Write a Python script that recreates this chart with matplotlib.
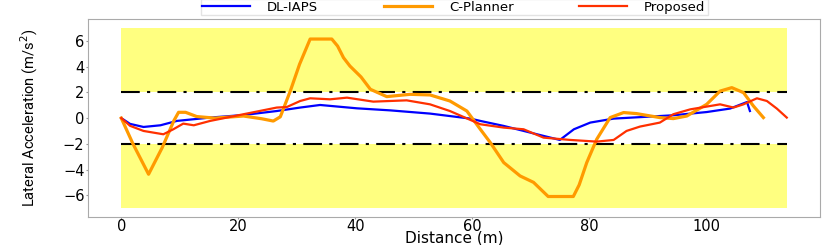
import matplotlib
matplotlib.use("Agg")
import matplotlib.pyplot as plt
import numpy as np

# C-Planner
cp_x = [0, 2.0, 4.67, 7.0, 9.0, 9.8, 11.0, 12.9, 16.0, 20.9, 24.0, 26.0, 27.2, 28.9, 30.5, 32.3, 36.0, 37.0,
        38.0, 39.1, 41.0, 42.6, 45.4, 49.4, 52.8, 56.2, 59.1, 61.4, 63.1, 65.4, 68.2, 70.5, 73.0, 77.3, 78.3,
        79.6, 81.3, 83.6, 85.9, 88.1, 92.1, 94.4, 96.7, 100.1, 102.4, 104.4, 106.4, 108.1, 109.8]
cp_y = [0, -2.0, -4.37, -2.3, -0.2, 0.45, 0.45, 0.12, 0.0, 0.16, -0.05, -0.23, 0.1, 2.1, 4.2, 6.15, 6.15, 5.6,
        4.7, 4.05, 3.2, 2.24, 1.67, 1.85, 1.8, 1.33, 0.55, -0.87, -1.9, -3.46, -4.5, -5.0, -6.1, -6.1, -5.2,
        -3.46, -1.65, 0.04, 0.43, 0.35, 0.04, -0.04, 0.16, 1.07, 2.1, 2.37, 1.98, 0.94, 0.04]

# DL-IAPS
dl_x = [0, 1.5, 3.8, 6.7, 9.5, 15.2, 20.9, 26.6, 30.6, 34.0, 40.3, 46.0, 52.8, 59.7, 61.4, 65.4, 71.1, 75.0,
        77.4, 80.2, 84.2, 92.1, 94.4, 100.1, 104.1, 107.0, 107.5]
dl_y = [0, -0.45, -0.69, -0.56, -0.22, 0.04, 0.24, 0.55, 0.82, 1.02, 0.76, 0.6, 0.35, -0.04, -0.22, -0.61,
        -1.26, -1.7, -0.87, -0.35, -0.04, 0.16, 0.22, 0.47, 0.74, 1.25, 0.55]

# Proposed
pr_x = [0, 1.5, 3.8, 7.2, 8.9, 10.6, 12.4, 15.2, 20.9, 26.6, 28.3, 30.6, 32.3, 35.7, 38.6, 43.1, 48.8, 52.8,
        56.2, 61.4, 65.4, 68.8, 72.2, 76.8, 81.3, 84.2, 86.4, 88.7, 92.1, 94.4, 97.3, 102.4, 104.7, 106.4,
        108.7, 110.4, 112.1, 113.8]
pr_y = [0, -0.6, -1.0, -1.26, -0.87, -0.43, -0.56, -0.22, 0.3, 0.82, 0.86, 1.33, 1.54, 1.46, 1.59, 1.28,
        1.38, 1.07, 0.55, -0.48, -0.74, -0.87, -1.52, -1.7, -1.83, -1.7, -1.0, -0.66, -0.35, 0.3, 0.68,
        1.07, 0.82, 1.07, 1.54, 1.33, 0.74, 0.04]

labels = ["DL-IAPS", "C-Planner", "Proposed"]
limit = 2
outer = 7
x_end = max(pr_x)

fig = plt.figure(figsize=(8.3, 2.45), dpi=100)
ax = fig.add_axes([0.106, 0.114, 0.882, 0.808])

ax.fill_between([0, x_end], [limit, limit], [outer, outer], color="#ffff80", lw=0)
ax.fill_between([0, x_end], [-outer, -outer], [-limit, -limit], color="#ffff80", lw=0)
ax.plot([0, x_end], [limit, limit], color="black", lw=1.5, dashes=(9, 3.5, 1.5, 3.5))
ax.plot([0, x_end], [-limit, -limit], color="black", lw=1.5, dashes=(9, 3.5, 1.5, 3.5))

ax.plot(dl_x, dl_y, color="#0000ff", lw=1.6, label=labels[0])
ax.plot(cp_x, cp_y, color="#ff9a00", lw=2.3, label=labels[1])
ax.plot(pr_x, pr_y, color="#ff3000", lw=1.6, label=labels[2])

ax.set_yticks([-6, -4, -2, 0, 2, 4, 6])
ax.set_xticks([0, 20, 40, 60, 80, 100])
ax.tick_params(labelsize=10.5, color="#999999", length=1.5, pad=1)
ax.tick_params(axis="x", pad=0)
for s in ax.spines.values():
    s.set_color("#aaaaaa")

ax.set_xlabel("Distance (m)", fontsize=11)
ax.xaxis.set_label_coords(0.5, -0.07)
ax.set_ylabel("Lateral Acceleration (m/s$^2$)", fontsize=10.5, family=["Roboto", "DejaVu Sans"])
ax.yaxis.set_label_coords(-0.066, 0.5)

leg = ax.legend(loc="lower center", bbox_to_anchor=(0.5, 0.985), ncol=3, fontsize=9.5,
                handlelength=3.6, columnspacing=5.0, handletextpad=1.3, borderpad=0.15,
                frameon=True, fancybox=False)
leg.get_frame().set_edgecolor("#dddddd")

fig.savefig("out.png", dpi=100)
